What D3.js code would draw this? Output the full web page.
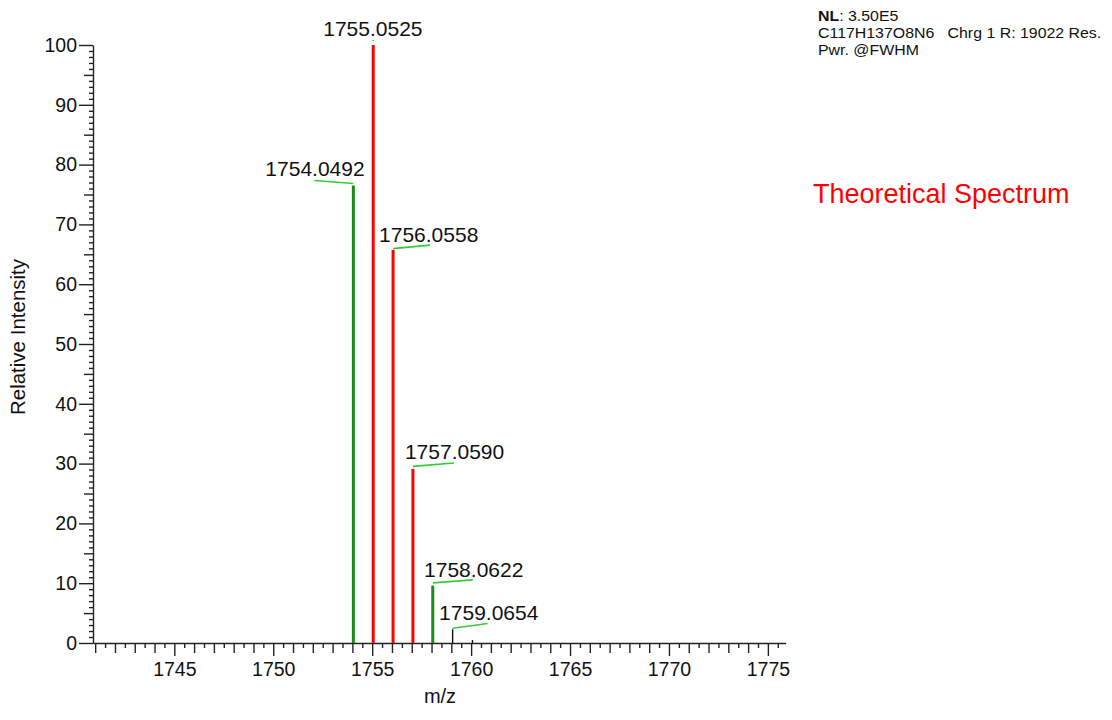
<!DOCTYPE html>
<html>
<head>
<meta charset="utf-8">
<script src="https://cdn.jsdelivr.net/npm/d3@7/dist/d3.min.js"></script>
<style>
  html, body { margin: 0; padding: 0; background: #fff; }
  svg { display: block; font-family: "Liberation Sans", Arial, sans-serif; }
</style>
</head>
<body>
<svg id="chart" width="1112" height="720"></svg>
<script>
// Isotope peaks (m/z, relative intensity %)
const peakMz = [1754.0492, 1755.0525, 1756.0558, 1757.0590, 1758.0622, 1759.0654, 1760.0686];
const peakIntensity = [76.5, 100, 65.7, 29.1, 9.6, 2.3, 0.5];
const peakKind = ["green", "red", "red", "red", "green", "black", "black"];
const peakLabels = ["1754.0492", "1755.0525", "1756.0558", "1757.0590", "1758.0622", "1759.0654", ""];

// Axis ticks
const xMajorTicks = [1745, 1750, 1755, 1760, 1765, 1770, 1775];
const yMajorTicks = [0, 10, 20, 30, 40, 50, 60, 70, 80, 90, 100];

// Header lines
const headerLines = [
  [{ t: "NL", b: true }, { t: ": 3.50E5", b: false }],
  [{ t: "C117H137O8N6   Chrg 1 R: 19022 Res.", b: false }],
  [{ t: "Pwr. @FWHM", b: false }]
];
const spectrumTitle = "Theoretical Spectrum";

// Label placement relative to each peak top: text offset and leader line end
const labelLayout = [
  { tx: -88, ty: -9.5, lx0: 0, ly0: -2, lx1: -39, ly1: -5 },
  { tx: -50, ty: -9, lx0: 0, ly0: -4, lx1: 0, ly1: -5 },
  { tx: -14, ty: -8.5, lx0: 0, ly0: -1.5, lx1: 37, ly1: -5 },
  { tx: -8, ty: -10.3, lx0: 0, ly0: -2.6, lx1: 41, ly1: -6 },
  { tx: -8.7, ty: -9, lx0: 0, ly0: -2.7, lx1: 40, ly1: -5.7 },
  { tx: -13.5, ty: -9, lx0: 0, ly0: -1, lx1: 35, ly1: -5.7 }
];

const colorOf = { green: "#1a8c1a", red: "#ff0000", black: "#111111" };
const widthOf = { green: 3, red: 3, black: 1.4 };

const svg = d3.select("#chart");

const x = d3.scaleLinear().domain([1740.89, 1775.9]).range([93, 785.7]);
const y = d3.scaleLinear().domain([0, 100]).range([643, 45]);

const axisColor = "#222";

// ---- x axis: half-unit, unit and 5-unit ticks
const halfTicks = d3.range(1741, 1775.6, 0.5).filter(v => v % 1 !== 0);
const unitTicks = d3.range(1741, 1776, 1).filter(v => v % 5 !== 0);

function styleAxis(g) {
  g.selectAll("line").attr("stroke", axisColor).attr("stroke-width", 1.4);
  g.selectAll("path").attr("stroke", axisColor).attr("stroke-width", 1.4);
  g.selectAll("text").attr("fill", "#111").style("font-size", "19.5px");
}

svg.append("g").attr("transform", `translate(0,${y(0)})`)
  .call(d3.axisBottom(x).tickValues(halfTicks).tickSize(5).tickFormat(""))
  .call(g => g.select(".domain").remove())
  .call(styleAxis);
svg.append("g").attr("transform", `translate(0,${y(0)})`)
  .call(d3.axisBottom(x).tickValues(unitTicks).tickSize(10).tickFormat(""))
  .call(g => g.select(".domain").remove())
  .call(styleAxis);
svg.append("g").attr("transform", `translate(0,${y(0)})`)
  .call(d3.axisBottom(x).tickValues(xMajorTicks).tickSize(13).tickSizeOuter(0).tickPadding(6).tickFormat(d3.format("d")))
  .call(styleAxis);

// ---- y axis: unit, 5 and 10 ticks
const yUnit = d3.range(1, 100).filter(v => v % 5 !== 0);
const yFive = d3.range(5, 100, 10);
svg.append("g").attr("transform", `translate(${x.range()[0]},0)`)
  .call(d3.axisLeft(y).tickValues(yUnit).tickSize(4).tickFormat(""))
  .call(g => g.select(".domain").remove())
  .call(styleAxis);
svg.append("g").attr("transform", `translate(${x.range()[0]},0)`)
  .call(d3.axisLeft(y).tickValues(yFive).tickSize(9).tickFormat(""))
  .call(g => g.select(".domain").remove())
  .call(styleAxis);
svg.append("g").attr("transform", `translate(${x.range()[0]},0)`)
  .call(d3.axisLeft(y).tickValues(yMajorTicks).tickSize(14).tickSizeOuter(0).tickPadding(2).tickFormat(d3.format("d")))
  .call(styleAxis);

// ---- axis titles
svg.append("text")
  .attr("x", 440).attr("y", 703)
  .attr("text-anchor", "middle")
  .style("font-size", "20px").attr("fill", "#111")
  .text("m/z");
svg.append("text")
  .attr("transform", `translate(25,${337}) rotate(-90)`)
  .attr("text-anchor", "middle")
  .style("font-size", "20.5px").attr("fill", "#111")
  .text("Relative Intensity");

// ---- peaks
const peaks = peakMz.map((mz, i) => ({ mz, v: peakIntensity[i], kind: peakKind[i], label: peakLabels[i], i }));

svg.append("g").selectAll("line")
  .data(peaks)
  .join("line")
  .attr("x1", d => x(d.mz)).attr("x2", d => x(d.mz))
  .attr("y1", y(0)).attr("y2", d => y(d.v))
  .attr("stroke", d => colorOf[d.kind])
  .attr("stroke-width", d => widthOf[d.kind]);

// ---- peak labels with leader lines
const labeled = peaks.filter(d => d.label);
const lab = svg.append("g").selectAll("g")
  .data(labeled)
  .join("g")
  .attr("transform", d => `translate(${x(d.mz)},${y(d.v)})`);

lab.append("line")
  .attr("x1", d => labelLayout[d.i].lx0).attr("y1", d => labelLayout[d.i].ly0)
  .attr("x2", d => labelLayout[d.i].lx1).attr("y2", d => labelLayout[d.i].ly1)
  .attr("stroke", "#33cc33").attr("stroke-width", 1.6);

lab.append("text")
  .attr("x", d => labelLayout[d.i].tx).attr("y", d => labelLayout[d.i].ty)
  .style("font-size", "21px").attr("fill", "#111")
  .text(d => d.label);

// ---- header block
const header = svg.append("g");
headerLines.forEach((parts, k) => {
  const t = header.append("text")
    .attr("transform", `translate(818,${20.7 + k * 17.2}) scale(1.12,1)`)
    .style("font-size", "14.2px").attr("fill", "#111");
  parts.forEach(p => {
    t.append("tspan").attr("font-weight", p.b ? "bold" : "normal").text(p.t);
  });
});
header.selectAll("text").style("white-space", "pre");

svg.append("text")
  .attr("x", 813).attr("y", 202.5)
  .style("font-size", "27px").attr("fill", "#ff0000")
  .text(spectrumTitle);
</script>
</body>
</html>
